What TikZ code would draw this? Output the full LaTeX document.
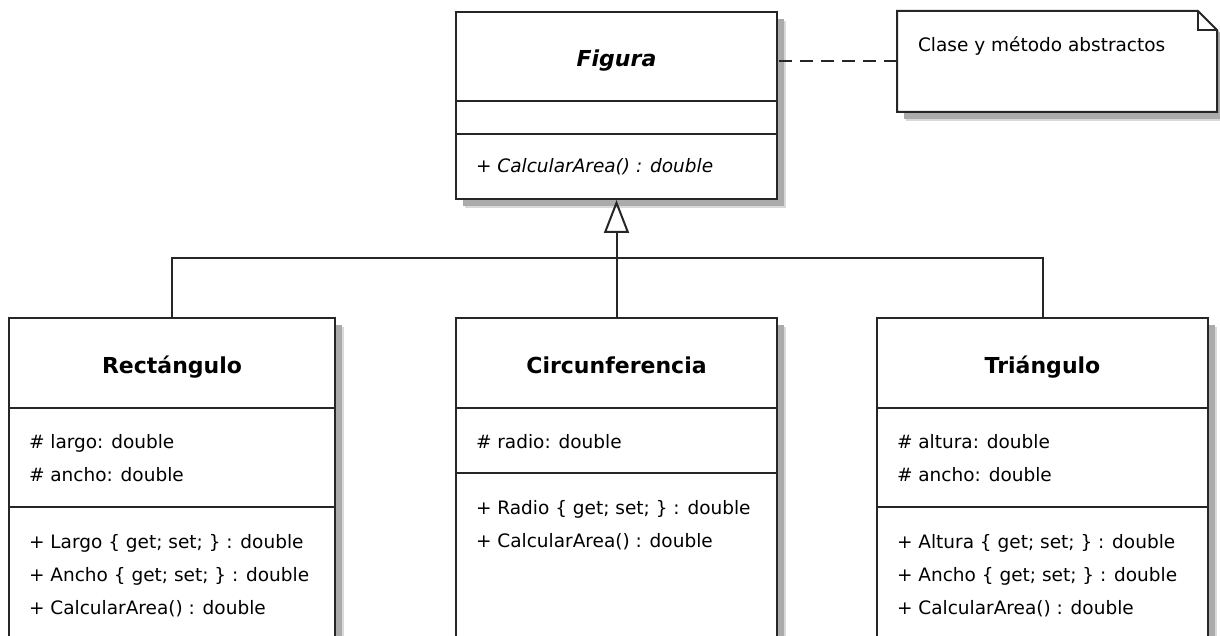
\documentclass[tikz,border=0pt]{standalone}
\usepackage{fontspec}
\setmainfont{DejaVu Sans}
\usetikzlibrary{arrows.meta,shadows}
\begin{document}
\begin{tikzpicture}[x=1pt,y=-1pt,
  line width=2pt,
  shadowed/.style={
    drop shadow={shadow xshift=9pt,shadow yshift=-9pt,fill=black!15,opacity=1},
    drop shadow={shadow xshift=7pt,shadow yshift=-7pt,fill=black!33,opacity=1}},
  cls/.style={draw=black!85,fill=white,inner sep=0pt,line width=2pt,shadowed},
  divline/.style={draw=black!85,line width=2pt},
  conn/.style={draw=black!85,line width=2pt},
  title/.style={font=\fontsize{22}{26}\selectfont\bfseries,inner sep=0pt,anchor=base},
  mem/.style={font=\fontsize{18.5}{22}\selectfont,inner sep=0pt,anchor=base west},
  notedash/.style={draw=black!85,line width=2pt,dash pattern=on 13pt off 8pt}
]
\useasboundingbox (0,0) rectangle (1220,636);
\clip (0,0) rectangle (1220,636);

% ---------- Figura ----------
\node[cls,minimum width=321pt,minimum height=187pt] (fig) at (616.5,105.5) {};
\draw[divline] (fig.west |- 0,101) -- (fig.east |- 0,101);
\draw[divline] (fig.west |- 0,134) -- (fig.east |- 0,134);
\node[title,font=\fontsize{22}{26}\selectfont\bfseries\itshape] (figt) at (616.5,67) {Figura};
\node[mem,font=\fontsize{18.5}{22}\selectfont\itshape] (figm1) at (475,173) {+ CalcularArea() : double};

% ---------- Note ----------
\node[inner sep=0pt,minimum width=318pt,minimum height=99pt] (note) at (1057,61.5) {};
\filldraw[draw=black!85,fill=white,line width=2pt,shadowed]
  (note.north west) -- ([xshift=-19pt]note.north east) -- ([yshift=-19pt]note.north east)
  -- (note.south east) -- (note.south west) -- cycle;
\draw[draw=black!85,line width=2pt] ([xshift=-19pt]note.north east) -- ([xshift=-19pt,yshift=-19pt]note.north east)
  -- ([yshift=-19pt]note.north east);
\node[mem] (notet) at (917,52) {Clase y método abstractos};
\draw[notedash] (note.west) -- (note.west -| fig.east);

% ---------- Rectangulo ----------
\node[cls,minimum width=326pt,minimum height=340pt] (rect) at (172,488) {};
\draw[divline] (rect.west |- 0,408) -- (rect.east |- 0,408);
\draw[divline] (rect.west |- 0,507) -- (rect.east |- 0,507);
\node[title] (rectt) at (172,373) {Rectángulo};
\node[mem] (recta1) at (28,448) {\# largo: double};
\node[mem] (recta2) at (28,481) {\# ancho: double};
\node[mem] (rectm1) at (28,548) {+ Largo \{ get; set; \} : double};
\node[mem] (rectm2) at (28,581) {+ Ancho \{ get; set; \} : double};
\node[mem] (rectm3) at (28,614) {+ CalcularArea() : double};

% ---------- Circunferencia ----------
\node[cls,minimum width=321pt,minimum height=340pt] (circ) at (616.5,488) {};
\draw[divline] (circ.west |- 0,408) -- (circ.east |- 0,408);
\draw[divline] (circ.west |- 0,473) -- (circ.east |- 0,473);
\node[title] (circt) at (616.5,373) {Circunferencia};
\node[mem] (circa1) at (475,448) {\# radio: double};
\node[mem] (circm1) at (475,514) {+ Radio \{ get; set; \} : double};
\node[mem] (circm2) at (475,547) {+ CalcularArea() : double};

% ---------- Triangulo ----------
\node[cls,minimum width=331pt,minimum height=340pt] (tri) at (1042.5,488) {};
\draw[divline] (tri.west |- 0,408) -- (tri.east |- 0,408);
\draw[divline] (tri.west |- 0,507) -- (tri.east |- 0,507);
\node[title] (trit) at (1042.5,373) {Triángulo};
\node[mem] (tria1) at (896,448) {\# altura: double};
\node[mem] (tria2) at (896,481) {\# ancho: double};
\node[mem] (trim1) at (896,548) {+ Altura \{ get; set; \} : double};
\node[mem] (trim2) at (896,581) {+ Ancho \{ get; set; \} : double};
\node[mem] (trim3) at (896,614) {+ CalcularArea() : double};

% ---------- Generalization ----------
\coordinate (junc) at (616.5,258);
\draw[conn] (rect.north) |- (junc) -| (tri.north);
\draw[conn,-{Triangle[open,length=33pt,width=25pt,line width=2pt]}] (circ.north) -- (fig.south);
\end{tikzpicture}
\end{document}
